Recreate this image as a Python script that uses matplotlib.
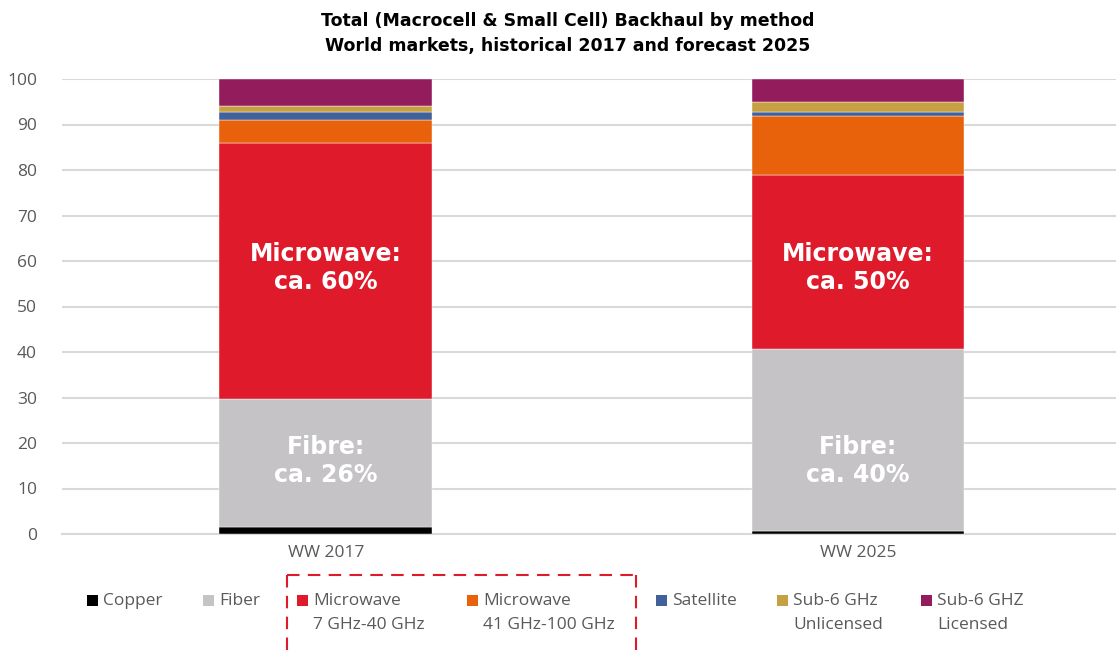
import matplotlib
matplotlib.use("Agg")
import matplotlib.pyplot as plt
from matplotlib.patches import Rectangle
from matplotlib.lines import Line2D

categories = ["WW 2017", "WW 2025"]
series_names = ["Copper", "Fiber", "Microwave\n7 GHz-40 GHz", "Microwave\n41 GHz-100 GHz",
                "Satellite", "Sub-6 GHz\nUnlicensed", "Sub-6 GHZ\nLicensed"]
copper = [1.6, 0.7]
fiber = [28.1, 40.0]
mw_low = [56.3, 38.1]
mw_high = [5.0, 13.1]
satellite = [1.8, 0.8]
sub6_unlic = [1.3, 2.2]
sub6_lic = [5.9, 5.1]
colors = ["#000000", "#C5C3C6", "#DF1A2A", "#E8620C", "#42619A", "#C7A043", "#931C5D"]

mw_labels = ["Microwave:\nca. 60%", "Microwave:\nca. 50%"]
fibre_labels = ["Fibre:\nca. 26%", "Fibre:\nca. 40%"]

W, H = 1116, 657
fig = plt.figure(figsize=(W / 100, H / 100), dpi=100)
ax = fig.add_axes([62 / W, 1 - 534 / H, (1116 - 62) / W, (534 - 79) / H])

series = [copper, fiber, mw_low, mw_high, satellite, sub6_unlic, sub6_lic]
x = [0, 1]
bottom = [0.0, 0.0]
for vals, c in zip(series, colors):
    ax.bar(x, vals, width=0.40, bottom=bottom, color=c, edgecolor="white", linewidth=0.3, zorder=3)
    bottom = [b + v for b, v in zip(bottom, vals)]

ax.set_xlim(-0.496, 1.485)
ax.set_ylim(0, 100)
ax.set_yticks(range(0, 101, 10))
ax.set_xticks(x)
ax.set_xticklabels(categories)
ax.yaxis.grid(True, color="#D9D9D9", linewidth=1.5, zorder=0)
for s in ax.spines.values():
    s.set_visible(False)
ax.spines["bottom"].set_visible(True)
ax.spines["bottom"].set_color("#D9D9D9")
ax.spines["bottom"].set_linewidth(1.5)
ax.tick_params(axis="both", length=0, labelsize=12.5, labelcolor="#595959", pad=8,
               labelfontfamily="Open Sans")
ax.tick_params(axis="y", pad=18)

for i in x:
    ax.text(i, 58.5, mw_labels[i], ha="center", va="center", color="white",
            fontsize=17, fontweight="bold", family="DejaVu Sans", linespacing=1.2, zorder=5)
    ax.text(i, 16, fibre_labels[i], ha="center", va="center", color="white",
            fontsize=17, fontweight="bold", family="DejaVu Sans", linespacing=1.2, zorder=5)

fig.text(568 / W, 1 - 33 / H, "Total (Macrocell & Small Cell) Backhaul by method\nWorld markets, historical 2017 and forecast 2025",
         ha="center", va="center", fontsize=12.5, fontweight="bold", family="DejaVu Sans", linespacing=1.5)

# legend
leg_x = [87, 203, 297, 467, 656, 777, 921]
for xp, name, c in zip(leg_x, series_names, colors):
    fig.patches.append(Rectangle((xp / W, 1 - 606 / H), 11 / W, 11 / H, transform=fig.transFigure,
                                 facecolor=c, edgecolor="none"))
    if "\n" in name:
        fig.text((xp + 16) / W, 1 - 593 / H, name, ha="left", va="top",
                 fontsize=12.5, color="#595959", family="Open Sans", linespacing=1.7)
    else:
        fig.text((xp + 16) / W, 1 - 601 / H, name, ha="left", va="center",
                 fontsize=12.5, color="#595959", family="Open Sans")

red = "#DF1A2A"
for xs, ys in [([287, 636], [575, 575]), ([287, 287], [575, 657]), ([636, 636], [575, 657])]:
    fig.lines.append(Line2D([v / W for v in xs], [1 - v / H for v in ys], transform=fig.transFigure,
                            color=red, linestyle=(0, (6, 4)), linewidth=1.5))

fig.savefig("out.png", dpi=100)
